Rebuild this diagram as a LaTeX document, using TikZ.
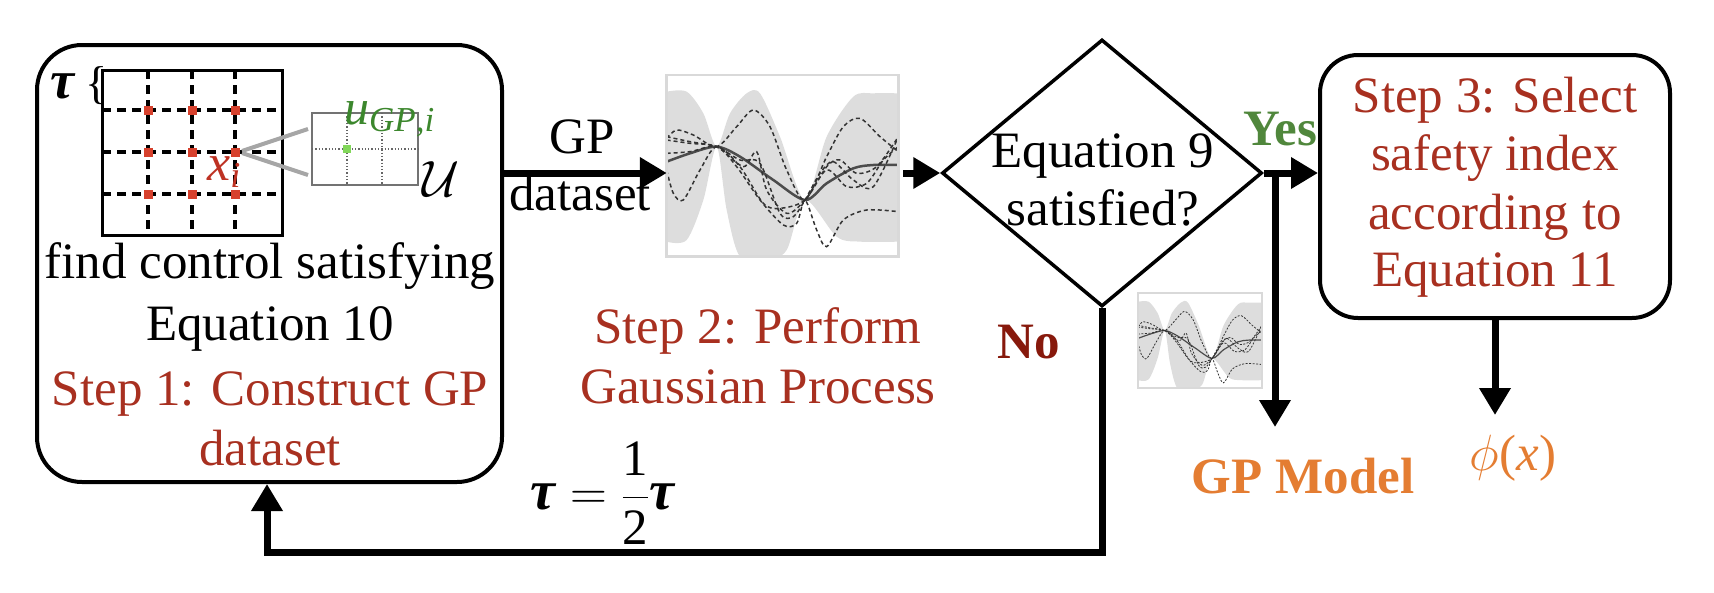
\RequirePackage{fix-cm}
\documentclass[tikz,border=0pt]{standalone}
\usepackage{fontspec}
\setmainfont{Liberation Serif}
\usetikzlibrary{arrows.meta,shapes.geometric,calc}
\definecolor{stepred}{RGB}{168,48,32}
\definecolor{nored}{RGB}{135,25,12}
\definecolor{yesgreen}{RGB}{80,135,60}
\definecolor{orng}{RGB}{228,125,50}
\definecolor{ugreen}{RGB}{60,135,45}
\definecolor{dotred}{RGB}{215,65,45}
\definecolor{xired}{RGB}{190,50,35}
\definecolor{dotgreen}{RGB}{130,215,90}
\definecolor{bandgray}{RGB}{221,221,221}
\newcommand\gpcurves[3]{%
  \begin{scope}
    \clip (80,45) rectangle (775,590);
    \fill[bandgray] plot[smooth] coordinates {(80,95) (140,95) (190,160) (230,260) (270,160) (320,100) (360,100) (420,230) (495,420) (560,230) (640,110) (700,100) (775,100)}
      -- plot[smooth] coordinates {(775,545) (660,545) (590,530) (495,420) (440,570) (380,600) (300,590) (260,450) (230,260) (190,420) (140,540) (80,545)} -- cycle;
    \draw[black!70, line width=#1] plot[smooth] coordinates {(80,305) (150,280) (230,260) (300,290) (400,360) (495,420) (560,370) (640,325) (700,315) (775,315)};
    \begin{scope}[black!80, line width=#2, dash pattern=#3]
    \draw plot[smooth] coordinates {(80,235) (110,210) (160,225) (230,260) (290,200) (340,150) (390,200) (440,330) (495,420) (560,290) (610,200) (660,175) (720,230) (775,275)};
    \draw plot[smooth] coordinates {(80,230) (150,245) (230,260) (300,300) (360,310) (420,460) (460,470) (495,420) (540,340) (580,305) (640,360) (700,380) (775,230)};
    \draw plot[smooth] coordinates {(80,280) (150,275) (230,260) (290,320) (360,420) (430,495) (470,490) (495,420) (530,510) (560,560) (610,480) (680,450) (775,455)};
    \draw plot[smooth] coordinates {(80,330) (100,400) (130,420) (180,330) (230,260) (300,320) (370,430) (420,445) (495,420) (560,320) (600,300) (650,340) (710,320) (775,230)};
    \draw plot[smooth] coordinates {(80,240) (150,250) (230,260) (310,320) (350,275) (380,390) (440,460) (495,420) (560,330) (620,380) (680,370) (730,300) (775,260)};
    \end{scope}
  \end{scope}
  \draw[black!15, line width=#1] (80,45) rectangle (775,590);
}
\begin{document}
\begin{tikzpicture}[x=1pt,y=-1pt, font=\fontsize{51}{60}\selectfont,
  arr/.style={line width=7pt,-{Triangle[width=30pt,length=27pt]}},
  tx/.style={inner sep=0pt, anchor=base},
  boxst/.style={draw, line width=4pt, inner sep=0pt},
  griddash/.style={line width=3.5pt, dash pattern=on 9pt off 6pt},
  redtxt/.style={text=stepred}]
\useasboundingbox (0,0) rectangle (1714,592);

% ---------- nodes ----------
\node[boxst, rounded corners=45pt, minimum width=465pt, minimum height=437pt] (s1) at (269.5,263.5) {};
\node[boxst, rounded corners=38pt, minimum width=350pt, minimum height=263pt] (s3) at (1495,186.5) {};
\node[diamond, draw, line width=3.5pt, minimum width=320pt, minimum height=267pt, inner sep=0pt] (d) at (1102,173) {};
\node[minimum width=231pt, minimum height=182pt, inner sep=0pt] (gp) at (782.5,166) {};
\node[minimum width=124pt, minimum height=95pt, inner sep=0pt] (gps) at (1200,340.5) {};

% ---------- grid in step 1 ----------
\draw[line width=3pt] (102,70) rectangle (282,235);
\foreach \x in {148,192,235} \draw[griddash] (\x,70) -- (\x,235);
\foreach \y in {110,152,194} \draw[griddash] (102,\y) -- (282,\y);
\foreach \x in {148,192,235} \foreach \y in {110,152,194} \fill[dotred] (\x-4.5,\y-4.5) rectangle ++(9,9);
\draw[black!35, line width=4pt] (242,151) -- (308,129);
\draw[black!35, line width=4pt] (242,153) -- (308,175);
\draw[black!55, line width=1.5pt] (312,113) rectangle (418,185);
\draw[black!60, line width=1.3pt, dotted] (347,113) -- (347,185) (382,113) -- (382,185) (312,149) -- (418,149);
\fill[dotgreen] (343,145) rectangle (351,153);
\node[tx, anchor=base west] (tau) at (50,98) {\fontsize{54}{54}\selectfont\textbf{\textit{τ}}\hspace{10pt}{\fontsize{46}{46}\selectfont\{}};
\node[tx, anchor=base west, text=xired] (xi) at (207,180) {\fontsize{52}{52}\selectfont\textit{x}\textsubscript{\textit{i}}};
\node[tx, anchor=base west, text=ugreen] (ulab) at (344,124) {\fontsize{50}{50}\selectfont\textit{u}\textsubscript{\textit{GP},\textit{i}}};
\node[tx] (calu) at (441,196) {$\mathcal{U}$};

% ---------- texts ----------
\node[tx] (t1a) at (270,278) {find control satisfying};
\node[tx] (t1b) at (270,340) {Equation 10};
\node[tx, redtxt] (t1c) at (270,405) {Step 1: Construct GP};
\node[tx, redtxt] (t1d) at (270,465) {dataset};
\node[tx] (lgp) at (582,153) {GP};
\node[tx] (lds) at (580,210) {dataset};
\node[tx, redtxt] (t2a) at (758,343) {Step 2: Perform};
\node[tx, redtxt] (t2b) at (758,403) {Gaussian Process};
\node[tx] (q1) at (1103,167) {Equation 9};
\node[tx] (q2) at (1103,225) {satisfied?};
\node[tx, text=yesgreen, font=\fontsize{51}{60}\selectfont\bfseries] (yes) at (1280,145) {Yes};
\node[tx, text=nored, font=\fontsize{51}{60}\selectfont\bfseries] (no) at (1029,358) {No};
\node[tx, text=orng, font=\fontsize{51}{60}\selectfont\bfseries] (gpm) at (1303,493) {GP Model};
\node[tx, text=orng] (phi) at (1513,470) {$\phi$(\textit{x})};
\node[tx, redtxt] (t3a) at (1495,112) {Step 3: Select};
\node[tx, redtxt] (t3b) at (1495,170) {safety index};
\node[tx, redtxt] (t3c) at (1495,229) {according to};
\node[tx, redtxt] (t3d) at (1495,286) {Equation 11};
\node[inner sep=0pt] (teq) at (603,493) {$\displaystyle \mbox{\fontsize{56}{56}\selectfont\textbf{\textit{τ}}} = \frac{\mbox{1}}{\mbox{2}}\mbox{\fontsize{56}{56}\selectfont\textbf{\textit{τ}}}$};

% ---------- GP plots ----------
\begin{scope}[shift={(640,60)}, scale=1/3]
  \gpcurves{2.5pt}{1.5pt}{on 4pt off 3pt}
\end{scope}
\begin{scope}[shift={(1123.7,285.2)}, xscale=0.1784, yscale=0.1743]
  \gpcurves{1.2pt}{0.8pt}{on 2pt off 1.5pt}
\end{scope}

% ---------- connectors ----------
\coordinate (yj) at (1275,173);
\coordinate (gpend) at (1275,427);
\coordinate (phiend) at (1495,415);
\coordinate (lp) at (267,552);
\draw[arr] (s1.east |- d) -- (gp.west |- d);
\draw[arr] ($(gp.east |- d)+(5,0)$) -- (d.west);
\draw[arr] (d.east) -- (s3.west |- d.east);
\draw[arr] (yj) -- (gpend);
\draw[arr] (s3.south) -- (phiend);
\draw[arr, line join=miter] (d.south) |- (lp) -- (lp |- s1.south);
\end{tikzpicture}
\end{document}
